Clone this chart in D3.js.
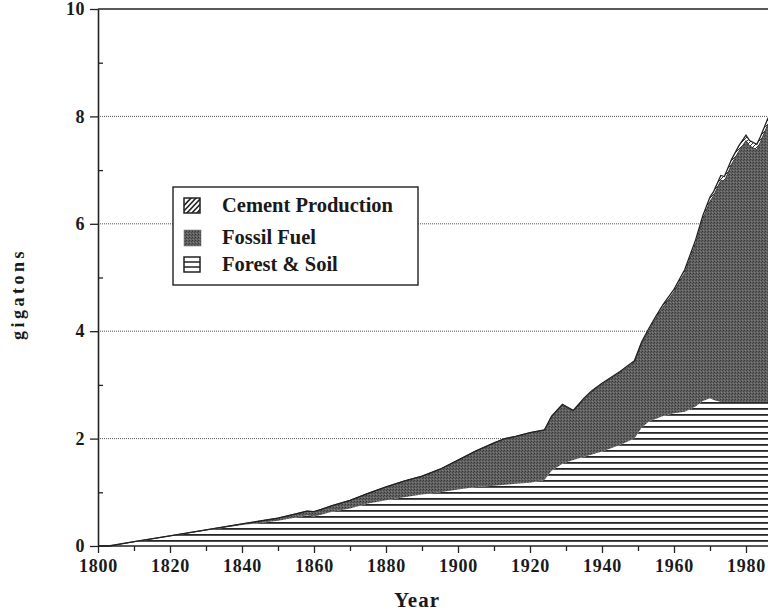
<!DOCTYPE html>
<html>
<head>
<meta charset="utf-8">
<script src="https://cdn.jsdelivr.net/npm/d3@7"></script>
<style>
  html, body { margin: 0; padding: 0; background: #fff; }
  svg { display: block; }
  text { font-family: "Liberation Serif", "Times New Roman", serif; font-weight: bold; fill: #1a1a1a; }
</style>
</head>
<body>
<script>
// ---- data (gigatons of carbon per year) ----
const years  = [1800,1803,1810,1820,1830,1840,1850,1855,1858,1860,1862,1865,1870,1875,1880,1885,1890,1895,1900,1905,1910,1913,1916,1920,1924,1926,1929,1932,1935,1937,1940,1945,1949,1951,1953,1955,1957,1960,1963,1966,1968,1970,1971,1973,1974,1976,1978,1980,1981,1983,1984,1986,1988];
const forestSoil = [0,0,0.07,0.18,0.29,0.39,0.47,0.53,0.57,0.55,0.58,0.64,0.70,0.79,0.85,0.91,0.96,1.00,1.05,1.10,1.12,1.14,1.16,1.18,1.23,1.40,1.53,1.60,1.66,1.70,1.76,1.88,2.00,2.20,2.32,2.37,2.42,2.47,2.50,2.60,2.70,2.75,2.72,2.68,2.68,2.68,2.68,2.68,2.68,2.68,2.68,2.68,2.68];
const fossilFuel = [0,0,0.01,0.01,0.01,0.02,0.05,0.07,0.08,0.09,0.10,0.11,0.15,0.19,0.25,0.30,0.34,0.43,0.55,0.67,0.80,0.86,0.88,0.93,0.93,1.01,1.09,0.91,1.07,1.16,1.25,1.35,1.42,1.57,1.69,1.87,2.03,2.26,2.59,3.03,3.38,3.67,3.80,4.13,4.11,4.43,4.67,4.87,4.77,4.70,4.84,5.16,5.41];
const cement     = [0,0,0,0,0,0,0,0,0,0,0,0,0,0,0,0,0,0,0,0,0,0,0,0,0,0.01,0.02,0.015,0.02,0.02,0.02,0.02,0.03,0.03,0.04,0.04,0.05,0.05,0.06,0.07,0.07,0.08,0.08,0.09,0.09,0.09,0.10,0.10,0.10,0.10,0.10,0.11,0.11];
const seriesKeys   = ["forest", "fossil", "cement"];
const legendLabels = ["Cement Production", "Fossil Fuel", "Forest & Soil"];
const xMajorTicks = [1800,1820,1840,1860,1880,1900,1920,1940,1960,1980];
const xMinorTicks = [1810,1830,1850,1870,1890,1910,1930,1950,1970,1990];
const yMajorTicks = [0,2,4,6,8,10];
const yMinorTicks = [1,3,5,7,9];
const xTitle = "Year";
const yTitle = "gigatons";

// ---- build table ----
const table = years.map((y, i) => ({ year: y, forest: forestSoil[i], fossil: fossilFuel[i], cement: cement[i] }));

const W = 768, H = 616;
const svg = d3.select("body").append("svg").attr("width", W).attr("height", H);

const x = d3.scaleLinear().domain([1800, 2000]).range([98, 818]);
const y = d3.scaleLinear().domain([0, 10]).range([546, 9]);

const defs = svg.append("defs");
// horizontal line hatch for forest & soil
const pf = defs.append("pattern").attr("id", "hatchH").attr("patternUnits", "userSpaceOnUse")
  .attr("x", 0).attr("y", 546 % 6).attr("width", 8).attr("height", 6);
pf.append("rect").attr("width", 8).attr("height", 6).attr("fill", "#fff");
pf.append("rect").attr("y", 0).attr("width", 8).attr("height", 1.8).attr("fill", "#262626");
// diagonal hatch for cement
const pc = defs.append("pattern").attr("id", "hatchD").attr("patternUnits", "userSpaceOnUse")
  .attr("width", 4).attr("height", 4);
pc.append("rect").attr("width", 4).attr("height", 4).attr("fill", "#fff");
pc.append("path").attr("d", "M-1,5 L5,-1").attr("stroke", "#333").attr("stroke-width", 1);
// stipple for fossil
const ps = defs.append("pattern").attr("id", "stip").attr("patternUnits", "userSpaceOnUse")
  .attr("width", 3).attr("height", 3);
ps.append("rect").attr("width", 3).attr("height", 3).attr("fill", "#616161");
ps.append("rect").attr("x", 0).attr("y", 0).attr("width", 1).attr("height", 1).attr("fill", "#363636");
ps.append("rect").attr("x", 2).attr("y", 1).attr("width", 1).attr("height", 1).attr("fill", "#444");
ps.append("rect").attr("x", 1).attr("y", 2).attr("width", 1).attr("height", 1).attr("fill", "#7e7e7e");
// clip for legend swatch
defs.append("clipPath").attr("id", "swClip").append("rect")
  .attr("x", 184).attr("y", 198).attr("width", 16).attr("height", 15);

// gridlines (dotted)
svg.append("g").selectAll("line").data([2,4,6,8]).join("line")
  .attr("x1", x(1800)).attr("x2", W).attr("y1", d => y(d)).attr("y2", d => y(d))
  .attr("stroke", "#555").attr("stroke-width", 1).attr("stroke-dasharray", "1,1");

// stacked areas
const stack = d3.stack().keys(seriesKeys);
const layers = stack(table);
const area = d3.area().x(d => x(d.data.year)).y0(d => y(d[0])).y1(d => y(d[1]));
const line = d3.line().x(d => x(d.data.year)).y(d => y(d[1]));
const fills = { forest: "url(#hatchH)", fossil: "url(#stip)", cement: "url(#hatchD)" };

svg.append("g").selectAll("path").data(layers).join("path")
  .attr("d", area).attr("fill", d => fills[d.key]).attr("stroke", "none");
// outlines
svg.append("path").datum(layers[1]).attr("d", line).attr("fill", "none")
  .attr("stroke", "#3a3a3a").attr("stroke-width", 1);
svg.append("path").datum(layers[2]).attr("d", line).attr("fill", "none")
  .attr("stroke", "#222").attr("stroke-width", 1.3);

// top border
svg.append("line").attr("x1", x(1800)).attr("x2", W).attr("y1", y(10)).attr("y2", y(10))
  .attr("stroke", "#222").attr("stroke-width", 1.5);

// x axis
const xAxis = svg.append("g").attr("transform", `translate(0,${y(0)})`)
  .call(d3.axisBottom(x).tickValues(xMajorTicks).tickSize(7).tickSizeOuter(0).tickPadding(6).tickFormat(d3.format("d")));
xAxis.select(".domain").remove();
xAxis.selectAll(".tick line").attr("stroke", "#222").attr("stroke-width", 1.3);
xAxis.selectAll(".tick text").attr("font-size", 18).attr("letter-spacing", "0.8px")
  .attr("font-family", "Liberation Serif, serif").attr("font-weight", "bold").attr("fill", "#1a1a1a");
svg.append("line").attr("x1", x(1800)).attr("x2", W).attr("y1", y(0)).attr("y2", y(0))
  .attr("stroke", "#222").attr("stroke-width", 1.6);
const xMinor = svg.append("g").attr("transform", `translate(0,${y(0)})`)
  .call(d3.axisBottom(x).tickValues(xMinorTicks).tickSize(5).tickFormat(""));
xMinor.select(".domain").remove();
xMinor.selectAll(".tick line").attr("stroke", "#222").attr("stroke-width", 1.3);

// y axis
const yAxis = svg.append("g").attr("transform", `translate(${x(1800)},0)`)
  .call(d3.axisLeft(y).tickValues(yMajorTicks).tickSize(8).tickSizeOuter(0).tickPadding(5).tickFormat(d3.format("d")));
yAxis.select(".domain").attr("stroke", "#222").attr("stroke-width", 1.6);
yAxis.selectAll(".tick line").attr("stroke", "#222").attr("stroke-width", 1.3);
yAxis.selectAll(".tick text").attr("font-size", 18).attr("letter-spacing", "0.5px")
  .attr("font-family", "Liberation Serif, serif").attr("font-weight", "bold").attr("fill", "#1a1a1a");
const yMinor = svg.append("g").attr("transform", `translate(${x(1800)},0)`)
  .call(d3.axisRight(y).tickValues(yMinorTicks).tickSize(5).tickFormat(""));
yMinor.select(".domain").remove();
yMinor.selectAll(".tick line").attr("stroke", "#222").attr("stroke-width", 1.3);

// axis titles
svg.append("text").attr("x", 417).attr("y", 607).attr("text-anchor", "middle")
  .attr("font-size", 21).attr("letter-spacing", "1px").text(xTitle);
svg.append("text").attr("transform", "translate(24,294) rotate(-90)").attr("text-anchor", "middle")
  .attr("font-size", 18).attr("letter-spacing", "3.5px").text(yTitle);

// legend
const lg = svg.append("g");
lg.append("rect").attr("x", 173).attr("y", 187).attr("width", 245).attr("height", 98)
  .attr("fill", "#fff").attr("stroke", "#222").attr("stroke-width", 1.4);
const legendRows = [205, 237, 264];
legendLabels.forEach((lab, i) => {
  const cy = legendRows[i];
  const g = lg.append("g");
  if (i === 0) {
    const hg = g.append("g").attr("clip-path", "url(#swClip)");
    [-1,0,1,2,3].forEach(k => {
      hg.append("line").attr("x1", 184 + k * 5 - 3).attr("y1", cy + 9).attr("x2", 184 + k * 5 + 13).attr("y2", cy - 8)
        .attr("stroke", "#222").attr("stroke-width", 1.6);
    });
    g.append("rect").attr("x", 184).attr("y", cy - 7).attr("width", 16).attr("height", 15)
      .attr("fill", "none").attr("stroke", "#222").attr("stroke-width", 1.5);
  } else if (i === 1) {
    g.append("rect").attr("x", 184).attr("y", cy - 7).attr("width", 17).attr("height", 16)
      .attr("fill", "url(#stip)").attr("stroke", "#666").attr("stroke-width", 0.5);
  } else {
    g.append("rect").attr("x", 184).attr("y", cy - 7).attr("width", 16).attr("height", 15)
      .attr("fill", "#fff").attr("stroke", "#222").attr("stroke-width", 1.5);
    [cy - 2, cy + 3].forEach(yy => g.append("line").attr("x1", 184).attr("x2", 200).attr("y1", yy).attr("y2", yy)
      .attr("stroke", "#222").attr("stroke-width", 1.5));
  }
  g.append("text").attr("x", 222).attr("y", cy + 7).attr("font-size", 20.5).text(lab);
});
</script>
</body>
</html>
